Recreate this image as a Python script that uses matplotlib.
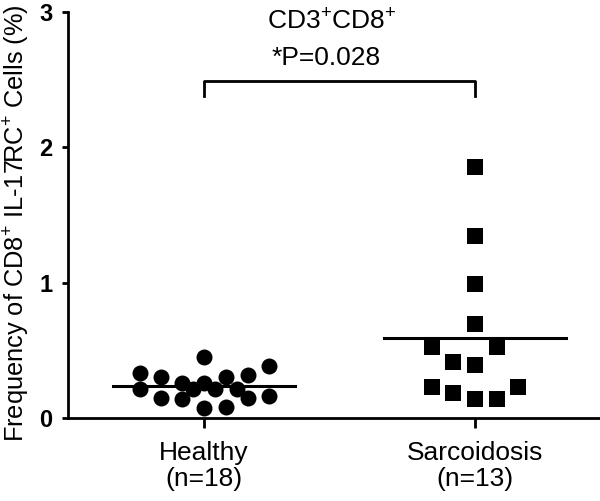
import numpy as np
import matplotlib
matplotlib.use("Agg")
import matplotlib.pyplot as plt

plt.rcParams['font.family'] = ['Liberation Sans', 'DejaVu Sans']
plt.rcParams['mathtext.fontset'] = 'custom'
plt.rcParams['mathtext.rm'] = 'Liberation Sans'

# data
groups = ["Healthy\n(n=18)", "Sarcoidosis\n(n=13)"]
healthy = [0.45, 0.33, 0.30, 0.38, 0.32, 0.30, 0.26, 0.26, 0.21,
           0.21, 0.21, 0.21, 0.15, 0.14, 0.15, 0.16, 0.07, 0.08]
sarcoid = [1.855, 1.345, 0.99, 0.69, 0.525, 0.52, 0.41, 0.39,
           0.23, 0.23, 0.18, 0.14, 0.14]
yticks = [0, 1, 2, 3]
title = "CD3$^{+}$CD8$^{+}$"
pval = "*P=0.028"
ylabel = "Frequency of CD8$^{+}$ IL-17RC$^{+}$ Cells (%)"

# horizontal scatter offsets (layout only, column-scatter spreading)
h_off = [0.0, -0.236, -0.159, 0.240, 0.162, 0.081, -0.081, 0.0, -0.236,
         -0.041, 0.041, 0.122, -0.159, -0.081, 0.162, 0.240, 0.0, 0.081]
s_off = [0.0, 0.0, 0.0, 0.0, -0.159, 0.081, -0.081, 0.0,
         -0.159, 0.159, -0.081, 0.0, 0.081]

fig = plt.figure(figsize=(6, 5.01), dpi=100)
ax = fig.add_axes([0.113, 0.166, 0.887, 0.810])

ax.plot(0 + np.array(h_off), healthy, 'o', color='black', markersize=11.5,
        markeredgewidth=0, clip_on=False)
ax.plot(1 + np.array(s_off), sarcoid, 's', color='black', markersize=11.5,
        markeredgewidth=0, clip_on=False)

hw = 0.335
for i, vals in enumerate([healthy, sarcoid]):
    m = np.mean(vals)
    ax.plot([i - hw, i + hw], [m, m], color='black', lw=2.2)

# significance bracket
ax.plot([0, 0, 1, 1], [2.38, 2.49, 2.49, 2.38], color='black', lw=2.0)
ax.text(0.45, 2.66, pval, ha='center', va='center', fontsize=19)
ax.text(0.47, 2.94, title, ha='center', va='center', fontsize=19)

ax.set_xlim(-0.502, 1.461)
ax.set_ylim(0, 3)
ax.set_xticks([0, 1])
ax.set_xticklabels(groups, fontsize=19, linespacing=1.1)
ax.set_yticks(yticks)
ax.set_yticklabels([str(t) for t in yticks], fontsize=17, fontweight='bold')
ax.set_ylabel(ylabel, fontsize=18.3)
ax.yaxis.set_label_coords(-0.068, 0.48)

for s in ['top', 'right']:
    ax.spines[s].set_visible(False)
for s in ['left', 'bottom']:
    ax.spines[s].set_linewidth(2.0)
ax.tick_params(axis='y', length=4, width=2.0, pad=7)
ax.tick_params(axis='x', length=7, width=2.0, pad=10)

fig.savefig("out.png", dpi=100)
